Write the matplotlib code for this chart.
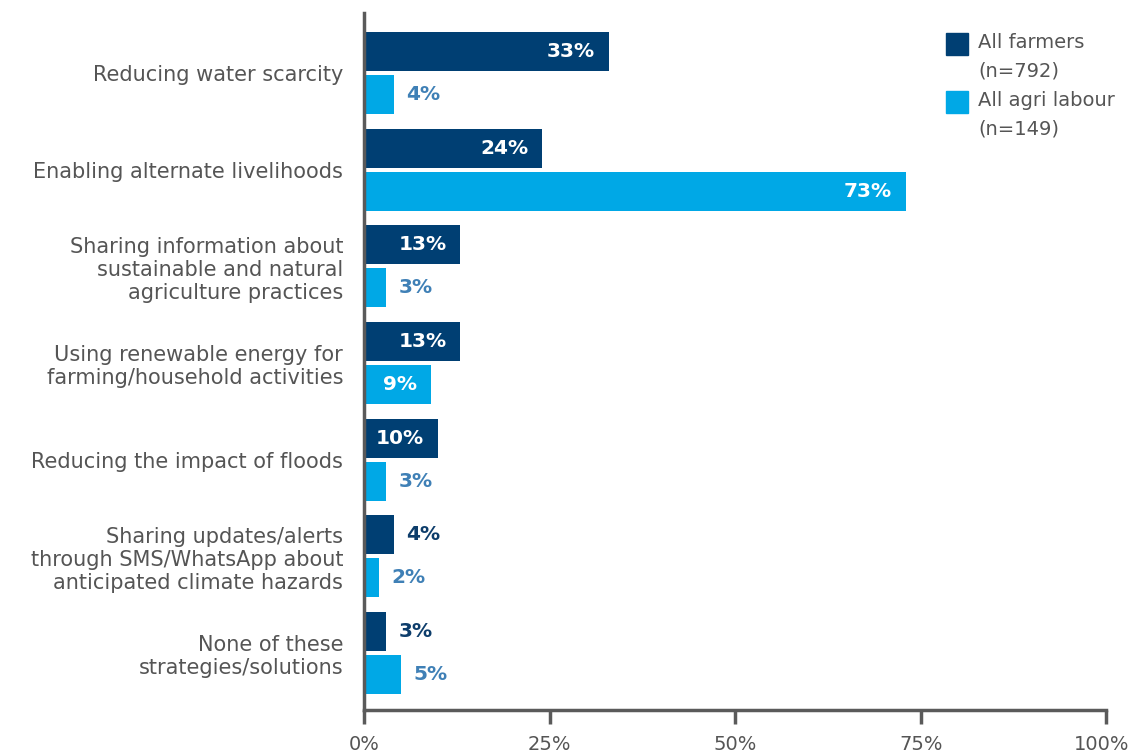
import numpy as np
import matplotlib.pyplot as plt
import matplotlib.transforms as mtransforms
from matplotlib.patches import Rectangle

plt.rcParams['font.family'] = ['DejaVu Sans']

# Survey responses: share choosing each strategy
categories = [
    'Reducing water scarcity',
    'Enabling alternate livelihoods',
    'Sharing information about\nsustainable and natural\nagriculture practices',
    'Using renewable energy for\nfarming/household activities',
    'Reducing the impact of floods',
    'Sharing updates/alerts\nthrough SMS/WhatsApp about\nanticipated climate hazards',
    'None of these\nstrategies/solutions',
]
farmers = [33, 24, 13, 13, 10, 4, 3]
labour = [4, 73, 3, 9, 3, 2, 5]
series_names = [('All farmers', '(n=792)'), ('All agri labour', '(n=149)')]
xticks = [0, 25, 50, 75, 100]

dark = '#003F73'
light = '#00A8E6'
dark_txt = '#0D3D6B'
light_txt = '#3F80B6'
grey = '#555555'

fig = plt.figure(figsize=(11.31, 7.53), dpi=100)
ax = fig.add_axes([0.3218, 0.0571, 0.6564, 0.9256])

y = np.arange(len(categories))
h = 0.404
off = 0.223

b1 = ax.barh(y - off, farmers, height=h, color=dark)
b2 = ax.barh(y + off, labour, height=h, color=light)

# value labels: inside for the longer bars, outside for short ones
for bars, vals, out_col in [(b1, farmers, dark_txt), (b2, labour, light_txt)]:
    for bar, v in zip(bars, vals):
        yc = bar.get_y() + bar.get_height() / 2
        if v >= 9:
            ax.annotate(f'{v}%', (v, yc), xytext=(-10, 0), textcoords='offset points',
                        ha='right', va='center', color='white', fontsize=14.5,
                        fontweight='semibold')
        else:
            ax.annotate(f'{v}%', (v, yc), xytext=(9, 0), textcoords='offset points',
                        ha='left', va='center', color=out_col, fontsize=14.5,
                        fontweight='semibold')

ax.set_ylim(6.59, -0.62)
ax.set_xlim(0, 100)
ax.set_yticks(y)
ax.set_yticklabels(categories, fontsize=15, color=grey, linespacing=1.2)
ax.tick_params(axis='y', length=0, pad=15)
ax.set_xticks(xticks)
ax.set_xticklabels([f'{t}%' for t in xticks], fontsize=14, color=grey)
ax.tick_params(axis='x', direction='out', length=10, width=2.5,
               color='#5a5a5a', pad=8)

# nudge the last tick label so it stays inside the canvas
last = ax.get_xticklabels()[-1]
last.set_transform(last.get_transform() +
                   mtransforms.ScaledTranslation(-0.05, 0, fig.dpi_scale_trans))

for s in ['top', 'right']:
    ax.spines[s].set_visible(False)
for s in ['left', 'bottom']:
    ax.spines[s].set_color('#5a5a5a')
    ax.spines[s].set_linewidth(2.5)

# legend: square swatch next to a two-line label
for i, (col, (name, n)) in enumerate(zip([dark, light], series_names)):
    top = 0.971 - i * 0.083
    ax.add_patch(Rectangle((0.784, top - 0.031), 0.0297, 0.031, color=col,
                           transform=ax.transAxes, clip_on=False))
    ax.text(0.8275, top - 0.014, name, transform=ax.transAxes, fontsize=14,
            color=grey, va='center', ha='left')
    ax.text(0.8275, top - 0.054, n, transform=ax.transAxes, fontsize=14,
            color=grey, va='center', ha='left')

fig.savefig('out.png', dpi=100)
